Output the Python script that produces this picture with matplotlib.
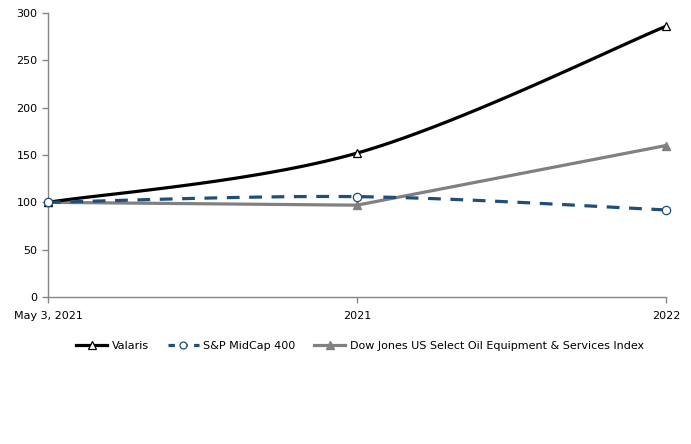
import numpy as np
import matplotlib
matplotlib.use("Agg")
import matplotlib.pyplot as plt
from matplotlib.lines import Line2D

categories = ["May 3, 2021", "2021", "2022"]
valaris = [100, 152, 286]
sp_midcap = [100, 106, 92]
dow_jones = [100, 97, 160]
yticks = [0, 50, 100, 150, 200, 250, 300]


def smooth(xs, ys, n=40):
    pts = np.column_stack([xs, ys]).astype(float)
    m = len(pts)
    ox, oy = [], []
    for i in range(m - 1):
        p0 = pts[i - 1] if i > 0 else pts[i]
        p1 = pts[i]
        p2 = pts[i + 1]
        p3 = pts[i + 2] if i + 2 < m else pts[i + 1]
        c1 = p1 + (p2 - p0) / 6.0
        c2 = p2 - (p3 - p1) / 6.0
        t = np.linspace(0, 1, n)[:, None]
        b = ((1 - t) ** 3) * p1 + 3 * ((1 - t) ** 2) * t * c1 + 3 * (1 - t) * t ** 2 * c2 + t ** 3 * p2
        ox.extend(b[:, 0]); oy.extend(b[:, 1])
    return np.array(ox), np.array(oy)


fig = plt.figure(figsize=(6.91, 4.44), dpi=100)
ax = fig.add_axes([48 / 691, 1 - 297 / 444, (666 - 48) / 691, (297 - 13) / 444])

x = np.arange(len(categories))
gray_spine = "#868686"
blue = "#1F4E79"
lw = 2.3
ms = 6

# Valaris
sx, sy = smooth(x, valaris)
ax.plot(sx, sy, color="black", lw=lw, zorder=3)
ax.plot(x, valaris, ls="none", marker="^", ms=ms, mfc="white", mec="black", mew=0.9, zorder=4)
# S&P MidCap 400
sx, sy = smooth(x, sp_midcap)
ax.plot(sx, sy, color=blue, lw=lw, ls=(0, (4, 3)), zorder=3)
ax.plot(x, sp_midcap, ls="none", marker="o", ms=ms, mfc="white", mec=blue, mew=0.9, zorder=4)
# Dow Jones
ax.plot(x, dow_jones, color="#808080", lw=lw, marker="^", ms=ms, mfc="#808080", mec="#808080", zorder=2)

handles = [
    Line2D([], [], color="black", lw=lw, marker="^", ms=ms, mfc="white", mec="black", mew=0.9),
    Line2D([], [], color=blue, lw=lw, ls=(0, (2, 2)), marker="o", ms=5, mfc="white", mec=blue, mew=0.9),
    Line2D([], [], color="#808080", lw=lw, marker="^", ms=ms, mfc="#808080", mec="#808080"),
]
fig.legend(handles, ["Valaris", "S&P MidCap 400", "Dow Jones US Select Oil Equipment & Services Index"],
           loc="center", bbox_to_anchor=(360 / 691, 1 - 346 / 444), ncol=3, frameon=False,
           fontsize=8, handlelength=2.8, columnspacing=1.7, handletextpad=0.4)

ax.set_xlim(0, 2)
ax.set_ylim(0, 300)
ax.set_yticks(yticks)
ax.set_xticks(x)
ax.set_xticklabels(categories)
for s in ["top", "right"]:
    ax.spines[s].set_visible(False)
for s in ["left", "bottom"]:
    ax.spines[s].set_color(gray_spine)
    ax.spines[s].set_linewidth(1)
ax.tick_params(axis="both", colors=gray_spine, labelcolor="black", labelsize=8, length=4, width=1)
ax.tick_params(axis="x", pad=6)
for l in ax.lines:
    l.set_clip_on(False)

fig.savefig("out.png", dpi=100)
